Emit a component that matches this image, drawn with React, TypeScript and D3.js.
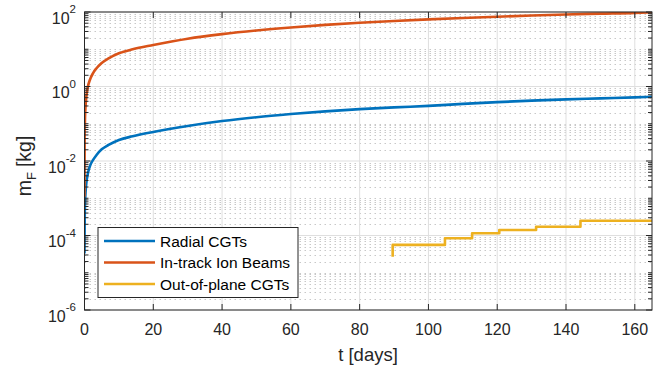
import React from "react";
import * as d3 from "d3";

// Sample times in days
const tDays = [
  0, 0.05, 0.15, 0.3, 0.5, 1, 1.5, 2.5, 3.5, 5, 7, 10, 14, 20, 30, 40, 50, 60,
  70, 80, 90, 100, 110, 120, 130, 140, 150, 160, 165,
];

// Propellant mass [kg] for the radial cold-gas thrusters
const radialCGTs = [
  3.3e-5, 2e-4, 7e-4, 1.4e-3, 2.4e-3, 4.7e-3, 7e-3, 0.0107, 0.0145, 0.0206,
  0.027, 0.0367, 0.046, 0.06, 0.087, 0.118, 0.15, 0.182, 0.215, 0.247, 0.275,
  0.302, 0.342, 0.38, 0.418, 0.452, 0.48, 0.51, 0.53,
];

// Propellant mass [kg] for the in-track ion beams
const inTrackIonBeams = [
  1.1e-3, 0.04, 0.14, 0.29, 0.5, 1.0, 1.45, 2.3, 3.1, 4.3, 5.7, 7.8, 10, 13,
  19.2, 25.5, 32, 38.5, 45, 51.5, 57.5, 63.4, 69, 74.8, 80.5, 86, 90.5, 95, 99,
];

// Out-of-plane cold-gas thrusters: piecewise-constant mass after each burn
const outOfPlaneT = [89.6, 89.6, 104.8, 112.7, 120.6, 131.3, 144.2, 165];
const outOfPlaneM = [2.7e-5, 5.6e-5, 8.4e-5, 1.15e-4, 1.4e-4, 1.72e-4, 2.5e-4, 2.5e-4];

const xTickValues = [0, 20, 40, 60, 80, 100, 120, 140, 160];
const yMajorExponents = [-6, -4, -2, 0, 2];

const legendLabels = ["Radial CGTs", "In-track Ion Beams", "Out-of-plane CGTs"];
const seriesColors = ["#0072BD", "#D95319", "#EDB120"];

const W = 668;
const H = 365;
const box = { left: 84.5, right: 652, top: 12, bottom: 310 };
const FONT = "'Liberation Sans', Arial, Helvetica, sans-serif";
const AXIS_COLOR = "#262626";

export default function App() {
  const x = d3.scaleLinear().domain([0, 165]).range([box.left, box.right]);
  const y = d3.scaleLog().domain([1e-6, 1e2]).range([box.bottom, box.top]);

  // minor log positions: 2..9 in every decade plus odd decades
  const minorY: number[] = [];
  for (let e = -6; e < 2; e++) {
    for (let k = 1; k <= 9; k++) {
      if (k === 1 && e % 2 === 0) continue;
      minorY.push(k * Math.pow(10, e));
    }
  }
  const majorY = yMajorExponents.map((e) => Math.pow(10, e));

  const line = d3
    .line<[number, number]>()
    .x((d) => x(d[0]))
    .y((d) => y(d[1]))
    .curve(d3.curveMonotoneX);
  const stepLine = d3
    .line<[number, number]>()
    .x((d) => x(d[0]))
    .y((d) => y(d[1]))
    .curve(d3.curveStepAfter);

  const radialPath = line(tDays.map((t, i) => [t, radialCGTs[i]]));
  const ionPath = line(tDays.map((t, i) => [t, inTrackIonBeams[i]]));
  const oopPath = stepLine(outOfPlaneT.map((t, i) => [t, outOfPlaneM[i]]));

  const majorTick = 6;
  const minorTick = 4;

  const legend = { x0: 98, y0: 227.5, x1: 298, y1: 297.5 };
  const legendRows = [241, 262.5, 284];

  return (
    <svg
      width={W}
      height={H}
      style={{ position: "absolute", left: 0, top: 0, background: "#fff" }}
      fontFamily={FONT}
    >
      <defs>
        <clipPath id="plotArea">
          <rect x={box.left} y={box.top} width={box.right - box.left} height={box.bottom - box.top} />
        </clipPath>
      </defs>
      <rect x={0} y={0} width={W} height={H} fill="#fff" />

      {/* minor grid (dotted) */}
      <g stroke="#c8c8c8" strokeWidth={1} strokeDasharray="1.5,3.5" fill="none">
        {minorY.map((v, i) => (
          <line key={i} x1={box.left} x2={box.right} y1={Math.round(y(v)) + 0.5} y2={Math.round(y(v)) + 0.5} />
        ))}
      </g>
      {/* major grid */}
      <g stroke="#dfdfdf" strokeWidth={1} fill="none">
        {majorY.map((v, i) => (
          <line key={i} x1={box.left} x2={box.right} y1={y(v)} y2={y(v)} />
        ))}
        {xTickValues.map((v, i) => (
          <line key={i} x1={x(v)} x2={x(v)} y1={box.top} y2={box.bottom} />
        ))}
      </g>

      {/* data */}
      <g clipPath="url(#plotArea)" fill="none" strokeWidth={2.6} strokeLinejoin="round">
        <path d={radialPath ?? ""} stroke={seriesColors[0]} />
        <path d={ionPath ?? ""} stroke={seriesColors[1]} />
        <path d={oopPath ?? ""} stroke={seriesColors[2]} />
      </g>

      {/* axes box and ticks */}
      <g stroke={AXIS_COLOR} strokeWidth={1} fill="none">
        <rect x={box.left} y={box.top} width={box.right - box.left} height={box.bottom - box.top} />
        {xTickValues.map((v, i) => (
          <g key={i}>
            <line x1={x(v)} x2={x(v)} y1={box.bottom} y2={box.bottom - majorTick} />
            <line x1={x(v)} x2={x(v)} y1={box.top} y2={box.top + majorTick} />
          </g>
        ))}
        {majorY.map((v, i) => (
          <g key={i}>
            <line x1={box.left} x2={box.left + majorTick} y1={y(v)} y2={y(v)} />
            <line x1={box.right} x2={box.right - majorTick} y1={y(v)} y2={y(v)} />
          </g>
        ))}
        {minorY.map((v, i) => (
          <g key={i}>
            <line x1={box.left} x2={box.left + minorTick} y1={y(v)} y2={y(v)} />
            <line x1={box.right} x2={box.right - minorTick} y1={y(v)} y2={y(v)} />
          </g>
        ))}
      </g>

      {/* tick labels */}
      <g fill={AXIS_COLOR} fontSize={16}>
        {xTickValues.map((v, i) => (
          <text key={i} x={x(v)} y={box.bottom + 25} textAnchor="middle">
            {v}
          </text>
        ))}
        {yMajorExponents.map((e, i) => (
          <text key={i} x={76} y={y(Math.pow(10, e)) + 11.5} textAnchor="end">
            <tspan>10</tspan>
            <tspan dy={-10.5} fontSize={11.5}>
              {String(e)}
            </tspan>
          </text>
        ))}
      </g>

      {/* axis labels */}
      <text x={368} y={361} textAnchor="middle" fontSize={18.5} fill={AXIS_COLOR}>
        t [days]
      </text>
      <text
        transform="translate(31,166) rotate(-90)"
        textAnchor="middle"
        fontSize={19.5}
        fill={AXIS_COLOR}
      >
        <tspan>m</tspan>
        <tspan dy={5} fontSize={13}>F</tspan>
        <tspan dy={-5} dx={5}>[kg]</tspan>
      </text>

      {/* legend */}
      <g>
        <rect
          x={legend.x0}
          y={legend.y0}
          width={legend.x1 - legend.x0}
          height={legend.y1 - legend.y0}
          fill="#fff"
          stroke={AXIS_COLOR}
          strokeWidth={1}
        />
        {legendLabels.map((label, i) => (
          <g key={i}>
            <line x1={104} x2={155} y1={legendRows[i]} y2={legendRows[i]} stroke={seriesColors[i]} strokeWidth={2.6} />
            <text x={160} y={legendRows[i] + 5.5} fontSize={15.5} fill="#000">
              {label}
            </text>
          </g>
        ))}
      </g>
    </svg>
  );
}
